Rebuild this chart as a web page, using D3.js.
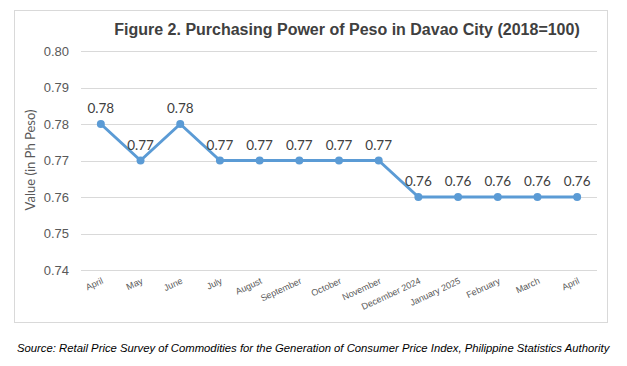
<!DOCTYPE html>
<head>
  <style>
    body { margin: 0; background: #fff; }
    text { font-family: "Liberation Sans", Arial, sans-serif; }
    .tick text { fill: #595959; }
  </style>
  <title>Purchasing Power of Peso in Davao City</title>
</head>
<body>
  <script src="https://cdn.jsdelivr.net/npm/d3@7/dist/d3.min.js"></script>
  <script>
    // data
    var months = ["April", "May", "June", "July", "August", "September", "October",
                  "November", "December 2024", "January 2025", "February", "March", "April"];
    var values = [0.78, 0.77, 0.78, 0.77, 0.77, 0.77, 0.77, 0.77, 0.76, 0.76, 0.76, 0.76, 0.76];
    var yTicks = [0.74, 0.75, 0.76, 0.77, 0.78, 0.79, 0.80];

    var width = 627, height = 366;
    var plotLeft = 81, plotRight = 597, plotTop = 51, plotBottom = 270;

    var svg = d3.select("body").append("svg")
      .attr("width", width)
      .attr("height", height);

    // chart frame
    svg.append("rect")
      .attr("x", 14.5).attr("y", 10.5)
      .attr("width", 593).attr("height", 312)
      .attr("fill", "none")
      .attr("stroke", "#d9d9d9");

    var x = d3.scaleBand().domain(d3.range(months.length)).range([plotLeft, plotRight]);
    var y = d3.scaleLinear().domain([0.74, 0.80]).range([plotBottom, plotTop]);

    // gridlines
    svg.append("g")
      .selectAll("line")
      .data(yTicks)
      .enter()
      .append("line")
      .attr("x1", plotLeft).attr("x2", plotRight)
      .attr("y1", function(d) { return Math.round(y(d)) + 0.5; })
      .attr("y2", function(d) { return Math.round(y(d)) + 0.5; })
      .attr("stroke", "#d9d9d9")
      .attr("stroke-width", 1);

    // Y axis
    var yAxis = svg.append("g")
      .attr("transform", "translate(" + (plotLeft - 4) + ",0)")
      .call(d3.axisLeft(y).tickValues(yTicks).tickFormat(d3.format(".2f")).tickSize(0).tickPadding(8));
    yAxis.select(".domain").remove();
    yAxis.selectAll("text").style("font-size", "13px");

    // Y axis label
    svg.append("text")
      .attr("transform", "translate(35,160) rotate(-90)")
      .style("text-anchor", "middle")
      .style("font-family", "Lato, 'Liberation Sans', sans-serif")
      .style("font-size", "13px")
      .attr("fill", "#595959")
      .text("Value (in Ph Peso)");

    // X labels
    svg.append("g")
      .selectAll("text")
      .data(months)
      .enter()
      .append("text")
      .attr("transform", function(d, i) {
        return "translate(" + (x(i) + x.bandwidth() / 2 + 3) + "," + 283 + ") rotate(-25)";
      })
      .style("text-anchor", "end")
      .style("font-size", "9px")
      .attr("fill", "#595959")
      .text(function(d) { return d; });

    // line
    var line = d3.line()
      .x(function(d, i) { return x(i) + x.bandwidth() / 2; })
      .y(function(d) { return y(d); });

    svg.append("path")
      .datum(values)
      .attr("d", line)
      .attr("fill", "none")
      .attr("stroke", "#5b9bd5")
      .attr("stroke-width", 3)
      .attr("stroke-linejoin", "round");

    svg.append("g")
      .selectAll("circle")
      .data(values)
      .enter()
      .append("circle")
      .attr("cx", function(d, i) { return x(i) + x.bandwidth() / 2; })
      .attr("cy", function(d) { return y(d); })
      .attr("r", 4)
      .attr("fill", "#5b9bd5");

    // data labels
    svg.append("g")
      .selectAll("text")
      .data(values)
      .enter()
      .append("text")
      .attr("x", function(d, i) { return x(i) + x.bandwidth() / 2; })
      .attr("y", function(d) { return y(d) - 11; })
      .style("text-anchor", "middle")
      .style("font-family", "Lato, 'Liberation Sans', sans-serif")
      .style("font-size", "13.5px")
      .attr("fill", "#404040")
      .text(function(d) { return d.toFixed(2); });

    // title
    svg.append("text")
      .attr("x", 347)
      .attr("y", 35)
      .style("text-anchor", "middle")
      .style("font-size", "16px")
      .style("font-weight", "bold")
      .attr("fill", "#404040")
      .text("Figure 2. Purchasing Power of Peso in Davao City (2018=100)");

    // source
    svg.append("text")
      .attr("x", 17)
      .attr("y", 352)
      .style("font-size", "11.3px")
      .style("font-style", "italic")
      .attr("fill", "#000")
      .text("Source: Retail Price Survey of Commodities for the Generation of Consumer Price Index, Philippine Statistics Authority");
  </script>
</body>
